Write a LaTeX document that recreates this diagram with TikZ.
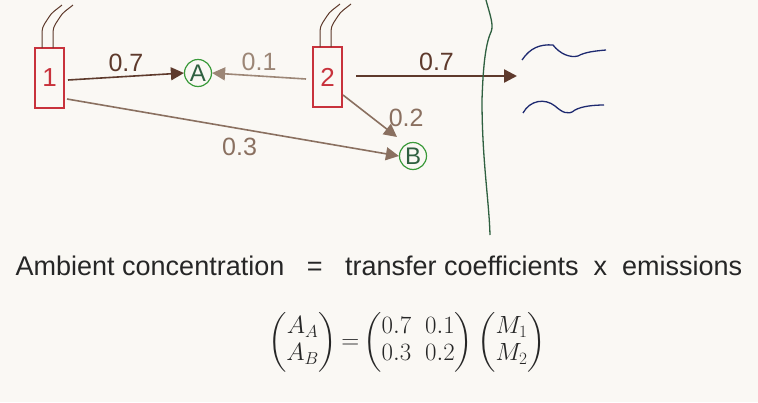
\documentclass[tikz,border=0pt]{standalone}
\usepackage{fontspec}
\usepackage{amsmath}
\setsansfont{Liberation Sans}
\usetikzlibrary{arrows.meta}
\definecolor{bg}{HTML}{FAF8F4}
\definecolor{dbrown}{HTML}{5E3A2C}
\definecolor{mbrown}{HTML}{8A7060}
\definecolor{lbrown}{HTML}{9C8676}
\definecolor{boxred}{HTML}{C8323C}
\definecolor{cgreen}{HTML}{3A9A3A}
\definecolor{lgreen}{HTML}{2F6040}
\definecolor{wblue}{HTML}{1E2A70}
\begin{document}
\begin{tikzpicture}[x=1pt,y=-1pt,
  src/.style={draw=boxred,line width=1.2pt,minimum width=29pt,minimum height=60pt,inner sep=0pt,text=boxred,font=\sffamily\fontsize{26}{26}\selectfont},
  rec/.style={draw=cgreen,line width=1.2pt,circle,inner sep=0.5pt,minimum size=27pt,text=lgreen,font=\sffamily\fontsize{24}{24}\selectfont},
  arr/.style={-{Triangle[length=13pt,width=13pt]},line width=1.6pt},
  lab/.style={font=\sffamily\fontsize{25}{25}\selectfont},
  pipe/.style={dbrown,line width=1pt}]
\fill[bg] (0,0) rectangle (758,402);
\useasboundingbox (0,0) rectangle (758,402);
\node[src] (s1) at (49.5,78) {1};
\node[src] (s2) at (327.5,77) {2};
\node[rec] (A) at (198,73) {A};
\node[rec] (B) at (413,156) {B};
\foreach \x/\y in {42/48,53/48,320/47,331/47}{
  \draw[pipe] (\x,\y) -- (\x,\y-16) .. controls (\x,\y-22) and (\x+4,\y-26) .. (\x+7,\y-31) .. controls (\x+10,\y-36) and (\x+14,\y-38) .. (\x+20,\y-43);
}
\coordinate (a1) at (68,80);
\coordinate (a2) at (306,79);
\coordinate (b2) at (343,95);
\coordinate (bt) at (397,137);
\coordinate (b1) at (67,99);
\coordinate (t) at (517,76);
\coordinate (a3) at (356,76);
\draw[arr,dbrown] (a1) -- (A.west) node[midway,above=1pt,lab]{0.7};
\draw[arr,lbrown] (a2) -- (A.east) node[midway,above=1pt,lab]{0.1};
\draw[arr,mbrown] (b2) -- (bt) node[pos=0.55,right=12pt,lab]{0.2};
\draw[arr,mbrown] (b1) -- (B.west) node[pos=0.52,below=5pt,lab]{0.3};
\draw[arr,dbrown,line width=2.4pt] (a3) -- (t) node[pos=0.5,above=1pt,lab]{0.7};
\draw[lgreen,line width=1.3pt] (486,0) .. controls (490,15) and (494,25) .. (491,32) .. controls (485,45) and (483,70) .. (482,100) .. controls (482,160) and (489,200) .. (490,235);
\draw[wblue,line width=1.3pt] (522,60) .. controls (530,48) and (540,44) .. (553,45) .. controls (560,54) and (570,58) .. (578,56) .. controls (585,52) and (595,51) .. (606,50);
\draw[wblue,line width=1.3pt] (523,113) .. controls (530,100) and (545,98) .. (555,106) .. controls (562,112) and (568,116) .. (575,110) .. controls (582,106) and (595,105) .. (604,105);
\node[font=\sffamily\fontsize{27}{27}\selectfont,text=black!85] (eqt) at (379,266) {Ambient concentration\ \ \ =\ \ \ transfer coefficients\ \ x\ \ emissions};
\node[font=\fontsize{24}{27}\selectfont,text=black!85,inner sep=0pt] (eq) at (407,342) {$\setlength{\arraycolsep}{2pt}\begin{pmatrix}A_A\\A_B\end{pmatrix}{=}\begin{pmatrix}0.7&\hspace{10pt}0.1\\0.3&\hspace{10pt}0.2\end{pmatrix}\begin{pmatrix}M_1\\M_2\end{pmatrix}$};
\end{tikzpicture}
\end{document}
